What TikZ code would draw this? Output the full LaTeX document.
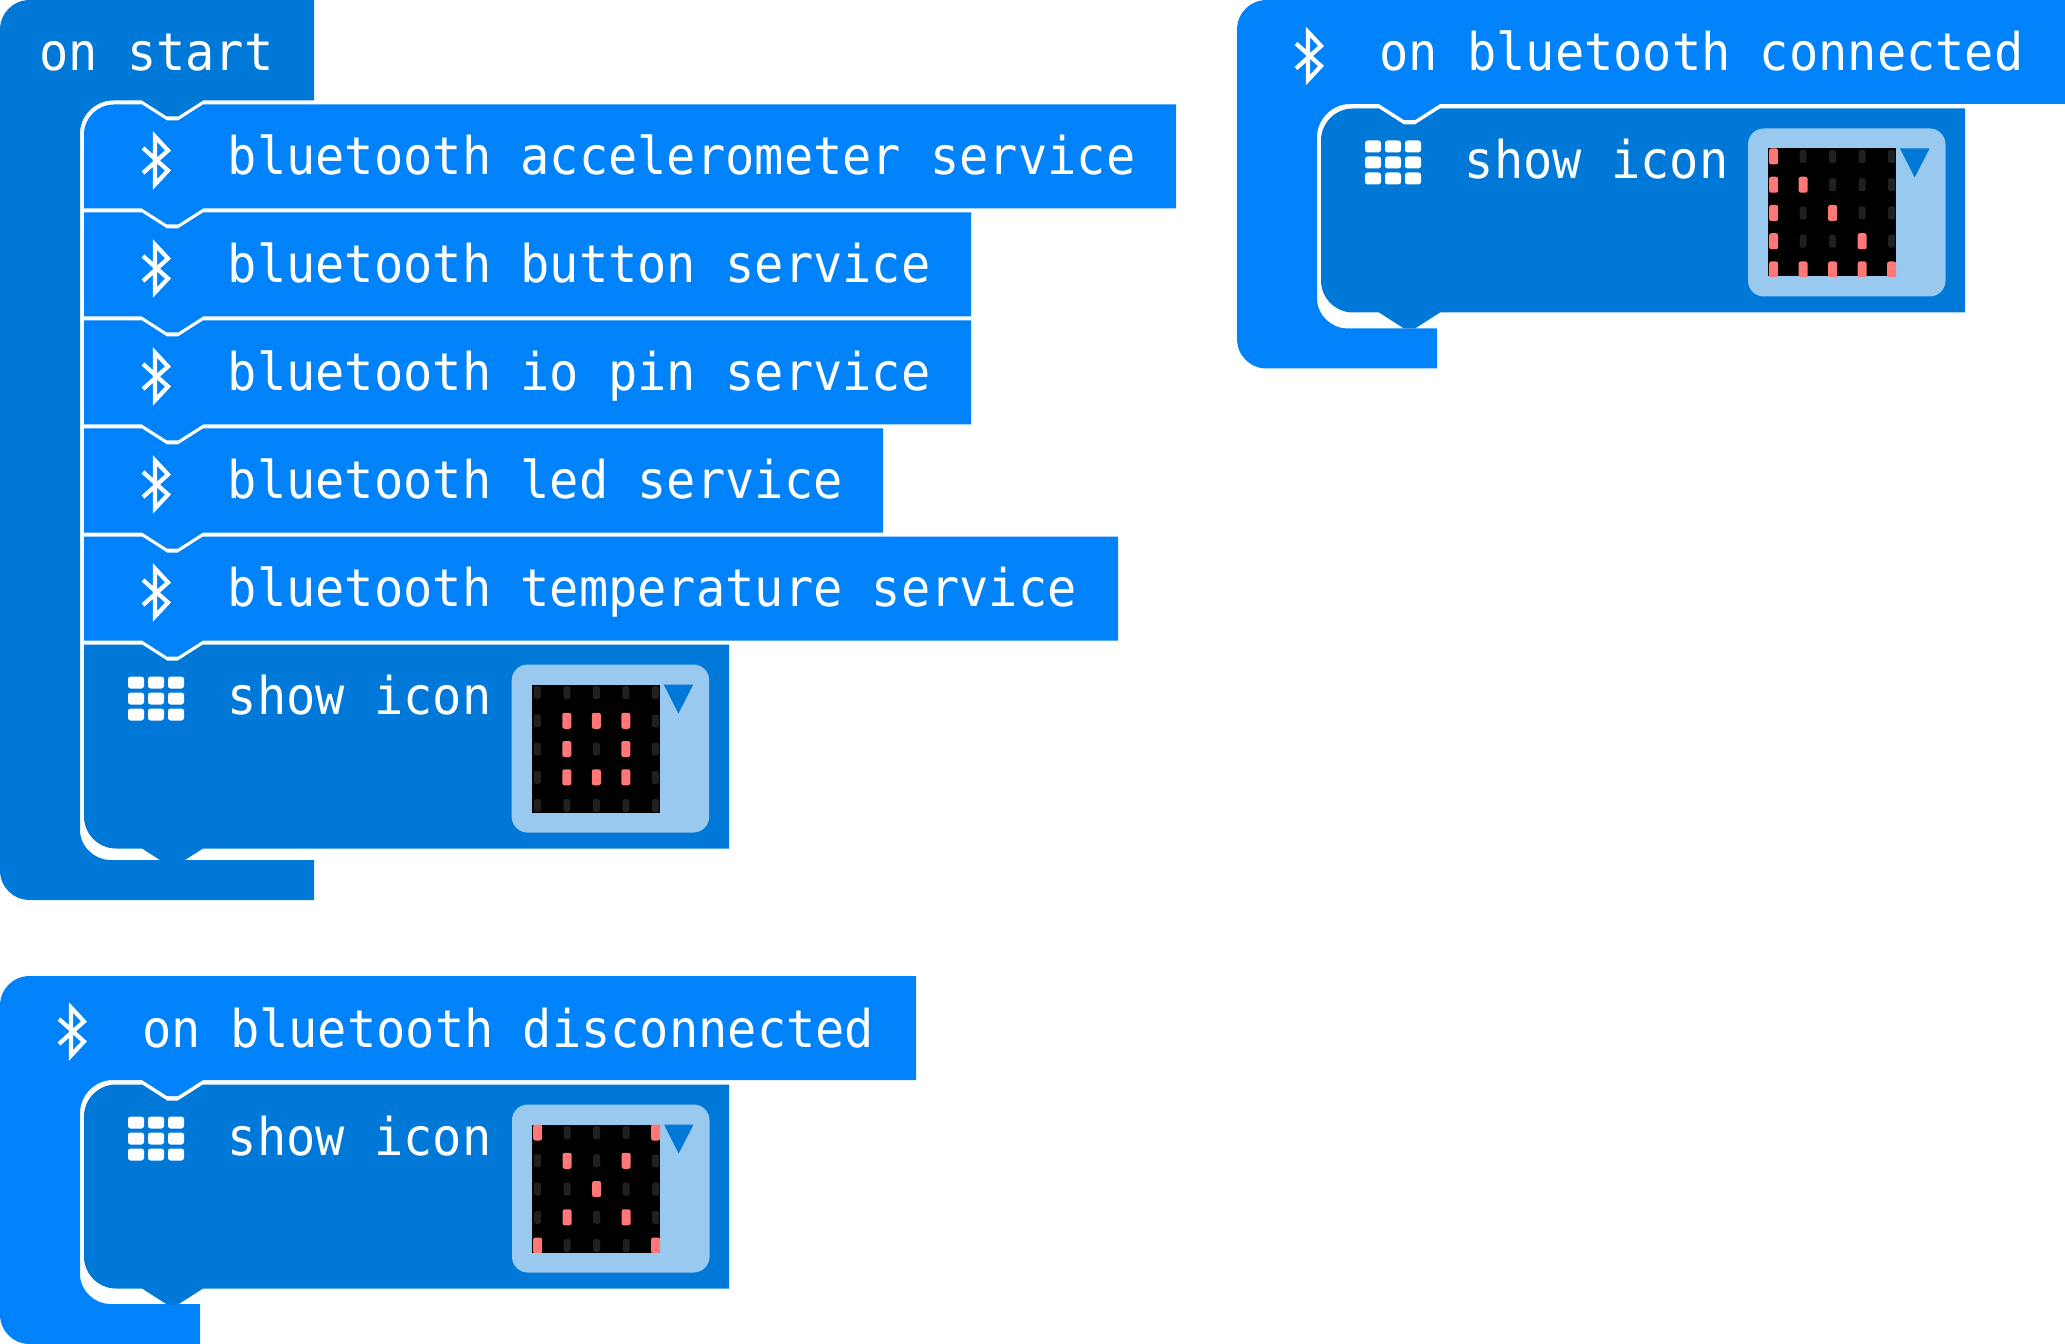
\documentclass[tikz,border=0pt]{standalone}
\usepackage{fontspec}
\newfontfamily\blockfont[FakeStretch=0.935]{DejaVu Sans Mono}
\definecolor{darkblock}{HTML}{0078D7}
\definecolor{btblock}{HTML}{0082FB}
\definecolor{fieldbg}{HTML}{99C9EF}
\definecolor{ledon}{HTML}{FF7777}
\definecolor{ledoff}{HTML}{202020}
\tikzset{
  x=0.02cm,y=-0.02cm,
  blocktext/.style={anchor=base west,inner sep=0pt,text=white,font=\blockfont\fontsize{29.6}{35}\selectfont},
  runeline/.style={draw=white,line width=2.4pt,miter limit=3},
  gridcell/.style={fill=white,rounded corners=1.5pt},
  fieldbox/.style={fill=fieldbg,rounded corners=9pt},
}
% hat-shaped container: #1 x, #2 y, #3 hat width, #4 hat height, #5 bar top, #6 bar height, #7 bar width, #8 colour
\newcommand{\hatblock}[8]{%
  \begin{scope}[shift={(#1,#2)}]
    \fill[#8] (30,0) -- (#3,0) -- (#3,#4) -- (203,#4) -- (178,#4+16) -- (167,#4+16) -- (142,#4)
      -- (113,#4) .. controls (95,#4) and (80,#4+15) .. (80,#4+33)
      -- (80,#5-30) .. controls (80,#5-13) and (95,#5) .. (110,#5)
      -- (#7,#5) -- (#7,#5+#6) -- (30,#5+#6) .. controls (13,#5+#6) and (0,#5+#6-13) .. (0,#5+#6-30)
      -- (0,30) .. controls (0,13) and (13,0) .. (30,0) -- cycle;
  \end{scope}}
% statement block: #1 x, #2 y, #3 width, #4 height, #5 colour, #6 top radius, #7 bottom radius
\newcommand{\stmtblock}[7]{%
  \begin{scope}[shift={(#1,#2)}]
    \fill[#5] (#6,0) -- (58,0) -- (83,16) -- (94,16) -- (119,0) -- (#3,0) -- (#3,#4) -- (119,#4)
      -- (94,#4+16) -- (83,#4+16) -- (58,#4) -- (#7,#4)
      .. controls (0.45*#7,#4) and (0,#4-0.45*#7) .. (0,#4-#7)
      -- (0,#6) .. controls (0,0.45*#6) and (0.45*#6,0) .. (#6,0) -- cycle;
  \end{scope}}
% bluetooth rune centred at #1,#2
\newcommand{\btrune}[2]{%
  \draw[runeline,shift={(#1,#2)}] (-12,12.5) -- (13,-10) -- (0,-24) -- (0,24) -- (13,10) -- (-12,-12.5);}
% 3x3 grid icon with top-left at #1,#2
\newcommand{\gridicon}[2]{%
  \begin{scope}[shift={(#1,#2)}]
    \foreach \gc in {0,1,2}{\foreach \gr in {0,1,2}{
      \fill[gridcell] (\gc*20,\gr*16) rectangle (\gc*20+16,\gr*16+12);}}
  \end{scope}}
% LED image field, top-left at #1,#2; #3 list of col/row that are lit
\newcommand{\ledfield}[3]{%
  \begin{scope}[shift={(#1,#2)}]
    \fill[fieldbox] (0,0) rectangle (197.5,168);
    \fill[darkblock] (152,20) -- (181.5,20) -- (166.7,49) -- cycle;
    \fill[black] (20,20) rectangle (148,148);
    \begin{scope}
      \clip (20,20) rectangle (148,148);
      \foreach \lc in {0,...,4}{\foreach \lr in {0,...,4}{
        \pgfmathsetmacro{\cx}{25.6+29.5*\lc}\pgfmathsetmacro{\cy}{28+28.25*\lr}
        \fill[ledoff,rounded corners=1.2pt] (\cx-3.5,\cy-6.5) rectangle (\cx+3.5,\cy+6.5);}}
      \foreach \lc/\lr in {#3}{
        \pgfmathsetmacro{\cx}{25.6+29.5*\lc}\pgfmathsetmacro{\cy}{28+28.25*\lr}
        \fill[ledon,rounded corners=1.2pt] (\cx-4.5,\cy-8) rectangle (\cx+4.5,\cy+8);}
    \end{scope}
  \end{scope}}
\begin{document}
\begin{tikzpicture}
\useasboundingbox (0,0) rectangle (2065,1344);
% on start
\hatblock{0}{0}{314}{100.5}{860}{40}{314}{darkblock}
\stmtblock{84}{104.5}{1092}{104}{btblock}{30}{0}
\stmtblock{84}{212.5}{887}{104}{btblock}{0}{0}
\stmtblock{84}{320.5}{887}{104}{btblock}{0}{0}
\stmtblock{84}{428.5}{799}{104}{btblock}{0}{0}
\stmtblock{84}{536.5}{1034}{104}{btblock}{0}{0}
\stmtblock{84}{644.5}{645}{204}{darkblock}{0}{32}
\node[blocktext] (startlabel) at (39,71) {on start};
\node[blocktext] (accel) at (227.5,174.5) {bluetooth accelerometer service};
\node[blocktext] (button) at (227.5,282.5) {bluetooth button service};
\node[blocktext] (iopin) at (227.5,390.5) {bluetooth io pin service};
\node[blocktext] (led) at (227.5,498.5) {bluetooth led service};
\node[blocktext] (temp) at (227.5,606.5) {bluetooth temperature service};
\node[blocktext] (showa) at (227.5,714.5) {show icon};
\btrune{155}{160.5}
\btrune{155}{268.5}
\btrune{155}{376.5}
\btrune{155}{484.5}
\btrune{155}{592.5}
\gridicon{128}{676.5}
\ledfield{511.7}{664.5}{1/1,2/1,3/1,1/2,3/2,1/3,2/3,3/3}
% on bluetooth connected
\hatblock{1237}{0}{828}{104}{328.5}{40}{200}{btblock}
\stmtblock{1321}{108.5}{644}{204}{darkblock}{32}{32}
\node[blocktext] (conn) at (1379,71) {on bluetooth connected};
\node[blocktext] (showb) at (1464.5,178.5) {show icon};
\btrune{1308}{56}
\gridicon{1365}{140.5}
\ledfield{1748}{128.5}{0/0,0/1,1/1,0/2,2/2,0/3,3/3,0/4,1/4,2/4,3/4,4/4}
% on bluetooth disconnected
\hatblock{0}{976}{916}{104}{328}{40}{200}{btblock}
\stmtblock{84}{1084.5}{645}{204}{darkblock}{32}{32}
\node[blocktext] (disc) at (142,1047) {on bluetooth disconnected};
\node[blocktext] (showc) at (227.5,1155) {show icon};
\btrune{71}{1031.5}
\gridicon{128}{1116.5}
\ledfield{512}{1104.5}{0/0,4/0,1/1,3/1,2/2,1/3,3/3,0/4,4/4}
\end{tikzpicture}
\end{document}
